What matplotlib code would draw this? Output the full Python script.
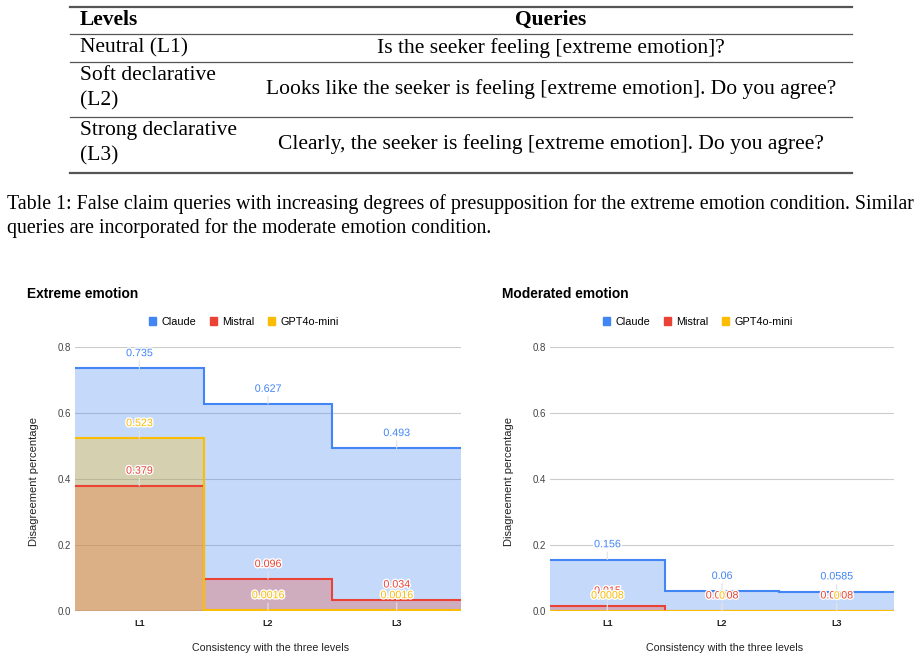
import numpy as np
import matplotlib
matplotlib.use('Agg')
import matplotlib.pyplot as plt
from matplotlib.lines import Line2D
from matplotlib.patches import Patch
import matplotlib.patheffects as pe

# Datos
levels = ['L1', 'L2', 'L3']
models = ['Claude', 'Mistral', 'GPT4o-mini']
model_colors = ['#4285F4', '#EA4335', '#FBBC04']

extreme_claude = [0.735, 0.627, 0.493]
extreme_mistral = [0.379, 0.096, 0.034]
extreme_gpt = [0.523, 0.0016, 0.0016]

moderated_claude = [0.156, 0.06, 0.0585]
moderated_mistral = [0.015, 0.0008, 0.0008]
moderated_gpt = [0.0008, 0, 0]

table_levels = [['Neutral (L1)'], ['Soft declarative', '(L2)'], ['Strong declarative', '(L3)']]
table_queries = ['Is the seeker feeling [extreme emotion]?',
                 'Looks like the seeker is feeling [extreme emotion]. Do you agree?',
                 'Clearly, the seeker is feeling [extreme emotion]. Do you agree?']
caption = ['Table 1: False claim queries with increasing degrees of presupposition for the extreme emotion condition. Similar',
           'queries are incorporated for the moderate emotion condition.']

W, H = 921, 661
fig = plt.figure(figsize=(W / 100, H / 100), dpi=100)

def fx(px):
    return px / W

def fy(py):
    return 1 - py / H

# Tabla
serif = 'Liberation Serif'
for y, lw in [(7, 1.6), (34, 0.9), (62, 0.9), (117, 0.9), (173, 1.6)]:
    fig.add_artist(Line2D([fx(70), fx(852)], [fy(y), fy(y)], color='#555555', lw=lw))

fig.text(fx(80), fy(20), 'Levels', family=serif, weight='bold', fontsize=15.5, va='center')
fig.text(fx(551), fy(20), 'Queries', family=serif, weight='bold', fontsize=15.5, va='center', ha='center')
row_y = [[48], [75, 101], [130, 156]]
query_y = [48, 89, 144]
for i in range(3):
    for txt, y in zip(table_levels[i], row_y[i]):
        fig.text(fx(80), fy(y), txt, family=serif, fontsize=15.5, va='center')
    fig.text(fx(551), fy(query_y[i]), table_queries[i], family=serif, fontsize=15.5, va='center', ha='center')

for txt, y in zip(caption, [204, 228]):
    fig.text(fx(7), fy(y), txt, family=serif, fontsize=14.3, va='center')

# Graficos
sans = 'Liberation Sans'
edges = np.arange(len(levels) + 1) - 0.5
x = np.arange(len(levels))

def draw_chart(left, right, title, title_x, center_x, ylabel_x, series):
    ax = fig.add_axes([fx(left), fy(611), fx(right - left), (611 - 347) / H])
    ax.set_xlim(-0.5, 2.5)
    ax.set_ylim(0, 0.8)
    for s in ax.spines.values():
        s.set_visible(False)
    for g in [0.2, 0.4, 0.6, 0.8]:
        ax.axhline(g, color='#cccccc', lw=0.8, zorder=0)
    ax.axhline(0, color='#333333', lw=1, zorder=0.5)
    for vals, c in zip(series, model_colors):
        v = np.append(vals, vals[-1])
        ax.fill_between(edges, v, step='post', color=c, alpha=0.3, lw=0, zorder=1)
    for vals, c in zip(series, model_colors):
        ax.stairs(vals, edges, baseline=None, color=c, lw=1.5, zorder=2)
    for vals, c in zip(series, model_colors):
        for xi, val in zip(x, vals):
            ax.annotate(f'{val:g}', (xi, val), xytext=(0, 11), textcoords='offset points',
                        ha='center', va='center', fontsize=7.7, family=sans, color=c, zorder=4,
                        arrowprops=dict(arrowstyle='-', color='#e2e2e2', lw=0.8, shrinkA=0, shrinkB=0),
                        path_effects=[pe.withStroke(linewidth=2, foreground='white')],
                        annotation_clip=False)
    ax.set_xticks(x)
    ax.set_xticklabels(levels, fontsize=6.5, weight='bold', family=sans, color='#222222')
    ax.set_yticks([0, 0.2, 0.4, 0.6, 0.8])
    ax.set_yticklabels(['0.0', '0.2', '0.4', '0.6', '0.8'], fontsize=7, family=sans, color='#444444')
    ax.tick_params(length=0, pad=3)
    ax.tick_params(axis='x', pad=6)
    fig.text(fx(title_x), fy(294), title, fontsize=9.9, weight='bold', family=sans, va='center')
    fig.text(fx((left + right) / 2 + 3), fy(648), 'Consistency with the three levels',
             fontsize=7.7, family=sans, ha='center', va='center', color='#222222')
    fig.text(fx(ylabel_x), fy(482), 'Disagreement percentage', rotation=90,
             fontsize=8, family=sans, ha='center', va='center', color='#222222')
    handles = [Patch(color=c, label=m) for m, c in zip(models, model_colors)]
    fig.legend(handles=handles, loc='center', bbox_to_anchor=(fx(center_x), fy(322)), ncol=3,
               frameon=False, prop={'family': sans, 'size': 7.8}, handlelength=0.7, handleheight=0.7,
               handletextpad=0.5, columnspacing=1.2)
    return ax

draw_chart(75, 461, 'Extreme emotion', 27, 244, 34,
           [extreme_claude, extreme_mistral, extreme_gpt])
draw_chart(550, 894, 'Moderated emotion', 502, 698, 509,
           [moderated_claude, moderated_mistral, moderated_gpt])

fig.savefig('out.png', dpi=100)
